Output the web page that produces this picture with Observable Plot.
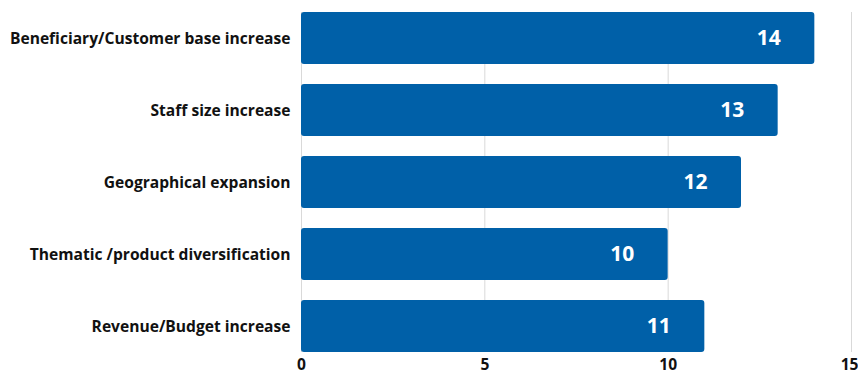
<!DOCTYPE html>
<html><head><meta charset="utf-8">
<script src="https://cdn.jsdelivr.net/npm/d3@7"></script>
<script src="https://cdn.jsdelivr.net/npm/@observablehq/plot@0.6"></script>
<style>
body{margin:0;background:#fff;overflow:hidden}
svg{font-family:"Open Sans",sans-serif;font-weight:700}
</style></head><body><div id="chart"></div>
<script>
const categories = ["Beneficiary/Customer base increase","Staff size increase","Geographical expansion","Thematic /product diversification","Revenue/Budget increase"];
const values = [14,13,12,10,11];
const xTicks = [0,5,10,15];
const data = categories.map((c,i)=>({category:c,value:values[i]}));
const lastTick = xTicks[xTicks.length-1];
const chart = Plot.plot({
  width:858, height:377,
  marginLeft:301, marginRight:7, marginTop:12, marginBottom:25,
  style:{fontSize:"15.6px",fontFamily:"'Open Sans', sans-serif",fontWeight:700,color:"#111"},
  x:{domain:[0,15], ticks:xTicks, label:null},
  y:{domain:categories, label:null, padding:0.278, paddingOuter:0},
  marks:[
    Plot.gridX(xTicks,{stroke:"#d9d9d9",strokeOpacity:1,strokeWidth:1}),
    Plot.barX(data,{x:"value",y:"category",fill:"#0060A8",rx:3}),
    Plot.text(data,{x:"value",y:"category",text:d=>String(d.value),fill:"white",fontSize:21,fontWeight:700,textAnchor:"middle",dx:-46}),
    Plot.axisX(xTicks.slice(0,-1),{tickSize:0,tickPadding:6,fontSize:15.6,fontWeight:700,fill:"#111"}),
    Plot.axisX([lastTick],{tickSize:0,tickPadding:6,fontSize:15.6,fontWeight:700,fill:"#111",textAnchor:"end",dx:7}),
    Plot.axisY({tickSize:0,tickPadding:11,fontSize:15.6,fontWeight:700,fill:"#111"})
  ]
});
document.getElementById("chart").appendChild(chart);
</script></body></html>
